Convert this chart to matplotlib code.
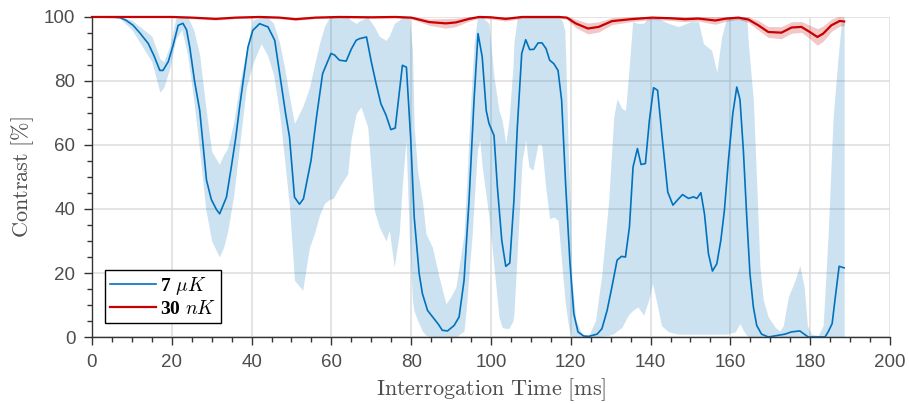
import matplotlib
matplotlib.use("Agg")
from matplotlib import pyplot as plt
from matplotlib.ticker import MultipleLocator

# 7 uK cloud: mean contrast
t_hot = [0, 5, 7, 8.5, 10.3, 12, 14.1, 15.5, 17, 17.8, 19.1, 20.3, 21.6, 22.8, 23.7,
         24.5, 25.7, 27, 28.7, 29.9, 31.2, 32, 33.7, 34.9, 36, 37, 38, 39.1, 40.3, 42,
         44.1, 45.8, 47.4, 48.5, 49.5, 50.75, 52, 53, 54.9, 56.3, 57.8, 59.9, 60.8, 62,
         63.7, 65, 66.2, 67, 68.8, 70, 71.2, 72.4, 73.7, 74.9, 76, 77.8, 78.8, 79.9,
         80.75, 82, 82.8, 84.1, 85.75, 86.8, 87.8, 89.1, 90.75, 92, 93.25, 94.5, 95.75,
         96.75, 97.8, 98.8, 99.5, 100.75, 101.6, 102.7, 103.7, 104.7, 105.75, 106.6,
         107.7, 108.7, 109.7, 110.75, 111.8, 112.8, 113.8, 114.7, 115.75, 116.8, 117.7,
         118.7, 119.75, 120.75, 121.8, 123.25, 124.5, 126.6, 127.8, 129.1, 130.3, 131.6,
         132.7, 133.7, 134.7, 135.6, 136.7, 137.6, 138.7, 139.7, 140.75, 141.75, 142.8,
         144.3, 145.6, 146.8, 148, 149.5, 150.75, 151.6, 152.6, 153.5, 154.5, 155.5,
         156.6, 157.6, 158.5, 159.5, 160.6, 161.6, 162.4, 163.25, 164.1, 164.9, 165.75,
         166.6, 167.8, 169.5, 173.7, 175.3, 177.4, 178.5, 179.5, 183.7, 184.5, 185.5,
         186.2, 187.25, 188.5]
c_hot = [100, 100, 99.8, 99, 97.4, 95, 91.7, 88, 83.3, 83.3, 86, 91, 97.4, 98, 96,
         90.6, 80, 70.8, 49, 43, 39.8, 38.5, 43.7, 53, 62, 71.9, 81, 90.6, 95.8, 97.9,
         96.9, 92.7, 79.2, 70, 62.5, 43.7, 41.5, 43.2, 55.2, 69, 82.3, 88.6, 88.1, 86.5,
         86.2, 90, 92.7, 93.2, 93.75, 86, 79.2, 72.9, 69.3, 64.8, 65.3, 84.9, 84.3, 61.5,
         37.5, 19.8, 13.6, 8.3, 5.7, 4, 2.1, 1.9, 3.6, 6.25, 17.7, 42.7, 74,
         94.8, 87.5, 70.8, 66.7, 63, 46.9, 30.2, 22.1, 23.1, 42.7, 65.6,
         88.6, 92.9, 89.8, 89.9, 91.9, 91.9, 90.1, 86.5, 85.4, 83.3, 74,
         47.9, 24, 7.3, 1.6, 0.3, 0.2, 0.9, 2.6, 8.3, 15.6, 24,
         25.2, 25, 34.4, 53.1, 58.9, 53.9, 54.2, 67.7, 77.9, 77.1, 63.6,
         45.3, 41.2, 42.9, 44.5, 43.3, 43.8, 43.3, 45.1, 38.5, 26, 20.6,
         22.9, 30.2, 39.6, 55.2, 69.8, 78.1, 74.2, 58.3, 37.5, 19.8, 9.4,
         3.6, 0.9, 0, 0.9, 1.6, 1.9, 0.9, 0, 0, 1.6, 4.2,
         11.5, 22.1, 21.6]

# 7 uK cloud: spread
t_hot_band = [0, 7, 10, 13, 15, 17, 18, 19.5, 21, 22.5, 24, 25.5, 27, 28.5, 30, 31.9, 33,
              34, 35.5, 37, 38.7, 40.3, 42.4, 44, 45.5, 47, 48.3, 49.5, 50.75, 52.8, 54.5,
              55.75, 57, 58.25, 59.5, 60.5, 62, 64.1, 64.9, 66.2, 67.4, 69.1, 70.75, 72,
              73.7, 74.5, 75.75, 77, 77.8, 78.7, 79.5, 80.3, 80.75, 81.6, 82.8, 83.7, 85.3,
              87, 88.7, 89.9, 91.2, 93.25, 94, 94.5, 95.3, 95.75, 96.6, 97.2, 97.8, 99.5,
              100.75, 102, 102.8, 103.7, 104.5, 105.5, 105.75, 106.6, 107.8, 108.7, 109.5,
              110.5, 111.8, 112.7, 113.7, 114.7, 115.75, 116.8, 117.8, 118.5, 118.8, 119.1,
              119.5, 119.9, 120.3, 121.3, 122.8, 124.5, 126.2, 127.8, 129.5, 130.75, 131.6,
              132.8, 133.7, 134.5, 135.5, 136.8, 138.25, 139.5, 140.5, 141.6, 142.7, 144.5,
              147, 150, 152, 153.25, 155.3, 156.6, 157.8, 159.1, 161.2, 162.4, 163.25,
              164.1, 164.5, 165.75, 166.6, 167.4, 168.25, 169.5, 171.2, 172.4, 173.25,
              174.5, 176.2, 177.4, 178.5, 179.3, 180.3, 182, 183.25, 184.5, 185.75, 187,
              187.8, 188.5]
lo_hot = [100, 99.5, 96, 90, 86, 76.5, 78, 84, 93, 96, 88, 74, 58, 40, 30, 25, 28,
          33, 44, 60, 78, 85.4, 91.7, 88, 82, 70, 55, 40.6, 17.7, 14.6, 28,
          32.3, 38, 41.7, 43, 43.3, 46.9, 51, 61.5, 69.8, 71.9, 65.6, 39.6, 34.4,
          30, 33.3, 21.9, 32.3, 47.9, 61.5, 32.3, 11.5, 8, 5.2, 1.9, 0.5, 0,
          0, 0, 0, 0, 1.9, 11.5, 20, 32.3, 42, 58.3, 61.5, 53.1, 37.5,
          21.9, 6.25, 3, 2.7, 2.7, 5, 7.3, 27.1, 55.2, 61.5, 53.1,
          52.1, 60.4, 60, 46.9, 37, 37.5, 36.5, 21.9, 12, 9, 6.25,
          3, 0.9, 0, 0, 0, 0, 0, 0.3, 0.5, 1, 1.9,
          3, 5.2, 7, 8.3, 9.4, 6.8, 11.5, 16.7, 10.4, 3.6, 1.6,
          0.9, 0.9, 0.9, 0.9, 0.9, 0.9, 0.9, 0.9, 1.6, 4.2, 2,
          0.5, 0, 0, 0, 0, 0, 0, 0, 0, 0,
          0, 0, 0, 0, 0, 0, 0, 0, 0, 0, 0,
          0, 0]
hi_hot = [100, 100, 99, 96, 94, 87, 86, 91, 99.5, 100, 100, 96, 88, 72, 58, 54, 57,
          59, 67, 79, 90, 99, 100, 100, 98, 92, 84, 75, 66.7, 72, 78,
          85, 91.7, 97, 100, 100, 100, 100, 99, 98, 99, 100, 97, 94,
          92.7, 94, 98, 99, 100, 100, 100, 90, 65.6, 52, 42.7, 32.3, 28.1,
          18.75, 10.4, 12.5, 15.6, 32.3, 50, 63.5, 82, 91.7, 100, 100, 100, 98,
          81.25, 70.8, 67.7, 60.4, 67.7, 84.4, 92, 100, 100, 100, 100,
          100, 100, 100, 100, 100, 100, 100, 99, 95.8, 84.4, 70,
          53.1, 40, 17.7, 5.2, 0.9, 0.5, 5.2, 19.8, 42.7, 68.75, 74.5,
          71.4, 70.8, 82.3, 98.5, 98, 98, 100, 100, 100, 99, 98,
          97, 98.5, 98.5, 91.7, 89.6, 82.8, 93.75, 100, 100, 100, 100,
          100, 91.7, 74, 47.9, 21.9, 11.5, 6.25, 3.1, 1.9, 3.6,
          12.5, 17.7, 22.4, 15.6, 3.6, 0.9, 0.5, 3.6, 32.3, 68.75, 87.5,
          98, 98.5]

# 30 nK cloud: mean contrast and spread
t_cold = [0, 10, 20, 25, 31, 36, 42, 47, 51, 56, 62, 70, 76, 80, 84.5, 88.7, 91.2,
          94.5, 97, 100, 103.7, 107.8, 112, 117, 119, 121.2, 124.3, 127, 130.3, 135,
          140.3, 145, 148.7, 152, 156.2, 159, 162, 164.5, 167, 169.5, 172.8, 175.3,
          177.8, 179.9, 181.8, 183.25, 185.3, 187.4, 188.5]
c_cold = [100, 100, 100, 99.8, 99.4, 99.8, 100, 99.8, 99.3, 99.8, 100, 99.9, 100, 99.8,
          98.4, 98, 98.3, 99.4, 100, 99.9, 99.4, 100, 100, 100, 99.8, 98, 96.4, 96.9,
          98.7, 99.3, 99.8, 99.6, 99.3, 99.5, 98.9, 99.5, 99.8, 99.2, 97.4, 95.3, 95.1,
          96.7, 96.9, 95.3, 93.75, 94.8, 97.4, 98.75, 98.6]
err_cold = [0.2, 0.2, 0.2, 0.3, 0.4, 0.3, 0.3, 0.3, 0.4, 0.3, 0.3, 0.3, 0.3, 0.4,
            1.0, 1.5, 1.3, 0.7, 0.4, 0.5, 0.7, 0.4, 0.4, 0.4, 0.5, 1.3, 1.7, 1.6,
            1.1, 0.8, 0.6, 0.7, 0.8, 0.8, 1.2, 0.8, 0.6, 0.9, 1.5, 1.7, 1.9,
            1.8, 1.7, 2.1, 2.6, 2.4, 1.9, 1.6, 1.3]

blue = '#0072BD'
red = '#C80000'
gray = '#4D4D4D'

plt.rcParams['mathtext.fontset'] = 'custom'
plt.rcParams['mathtext.rm'] = 'cmr10'
plt.rcParams['mathtext.it'] = 'cmmi10'
plt.rcParams['mathtext.bf'] = 'Liberation Serif:bold'
plt.rcParams['mathtext.fallback'] = 'cm'
plt.rcParams['font.family'] = ['Liberation Sans', 'DejaVu Sans']

fig = plt.figure(figsize=(9.09, 4.04), dpi=100)
ax = fig.add_axes([0.1012, 0.1658, 0.8779, 0.7922])

ax.fill_between(t_hot_band, lo_hot, hi_hot, color=blue, alpha=0.2, linewidth=0)
cold_lo = [c - e for c, e in zip(c_cold, err_cold)]
cold_hi = [c + e for c, e in zip(c_cold, err_cold)]
ax.fill_between(t_cold, cold_lo, cold_hi, color=red, alpha=0.22, linewidth=0)

ax.plot(t_hot, c_hot, color=blue, linewidth=1.2, label=r'$\mathbf{7}\ \mu K$')
ax.plot(t_cold, c_cold, color=red, linewidth=1.6, label=r'$\mathbf{30}\ nK$',
        clip_on=False)

ax.set_xlim(0, 200)
ax.set_ylim(0, 100)
ax.xaxis.set_major_locator(MultipleLocator(20))
ax.xaxis.set_minor_locator(MultipleLocator(5))
ax.yaxis.set_major_locator(MultipleLocator(20))
ax.yaxis.set_minor_locator(MultipleLocator(5))
ax.grid(True, which='major', color='#DCDCDC', linewidth=1.1)
ax.set_axisbelow(True)

for side in ['top', 'right']:
    ax.spines[side].set_visible(False)
for side in ['left', 'bottom']:
    ax.spines[side].set_color('#333333')
    ax.spines[side].set_linewidth(1.0)

ax.tick_params(which='major', direction='out', length=6, width=1.0,
               colors='#333333', labelcolor=gray, labelsize=13.5, pad=6)
ax.tick_params(which='minor', direction='out', length=3.5, width=1.0,
               colors='#333333')

ax.set_xlabel(r'$\mathrm{Interrogation\ Time\ [ms]}$', fontsize=16, color=gray,
              labelpad=4)
ax.set_ylabel(r'$\mathrm{Contrast\ [\%]}$', fontsize=16, color=gray, labelpad=6)

leg = ax.legend(loc='lower left', bbox_to_anchor=(0.016, 0.044), borderaxespad=0,
                fontsize=14, handlelength=2.4, handletextpad=0.2, borderpad=0.25,
                labelspacing=0.15, fancybox=False, framealpha=1)
leg.get_frame().set_edgecolor('black')
leg.get_frame().set_linewidth(1.0)

fig.savefig('out.png', dpi=100)
